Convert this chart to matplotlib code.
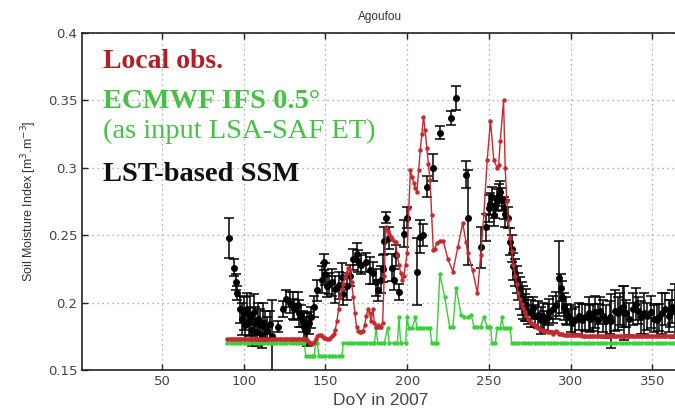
import matplotlib
matplotlib.use("Agg")
import matplotlib.pyplot as plt
import numpy as np

# ---------------- data ----------------
# Local obs. (red)
red_days = [90, 91, 92, 93, 94, 95, 96, 97, 98, 99, 100, 101, 102, 103, 104, 105, 106, 107, 108, 109,
            110, 111, 112, 113, 114, 115, 116, 117, 118, 119, 120, 121, 122, 123, 124, 125, 126, 127, 128, 129,
            130, 131, 132, 133, 134, 135, 136, 137, 138, 139, 140, 141, 142, 143, 144, 145, 146, 147, 148, 149,
            150, 151, 152, 153, 154, 155, 156, 157, 158, 159, 160, 161, 162, 163, 164, 165, 166, 167, 168, 169,
            170, 171, 172, 173, 174, 175, 176, 177, 178, 179, 180, 181, 182, 183, 184, 185, 186, 187, 188, 189,
            190, 191, 192, 193, 194, 195, 196, 197, 198, 199, 200, 201, 202, 203, 204, 205, 206, 207, 208, 209,
            210, 211, 212, 213, 214, 215, 216, 217, 218, 220, 222, 225, 228, 231, 234, 236, 237, 240, 243, 245,
            247, 249, 251, 253, 255, 256, 257, 259, 260, 261, 262, 263, 264, 265, 266, 267, 268, 269, 270, 271,
            272, 273, 274, 275, 276, 277, 278, 279, 280, 281, 282, 283, 284, 285, 286, 287, 288, 289, 290, 291,
            292, 293, 294, 295, 296, 297, 298, 299, 300, 301, 302, 303, 304, 305, 306, 307, 308, 309, 310, 311,
            312, 313, 314, 315, 316, 317, 318, 319, 320, 321, 322, 323, 324, 325, 326, 327, 328, 329, 330, 331,
            332, 333, 334, 335, 336, 337, 338, 339, 340, 341, 342, 343, 344, 345, 346, 347, 348, 349, 350, 351,
            352, 353, 354, 355, 356, 357, 358, 359, 360, 361, 362, 363, 364, 365]
red_vals = [0.173, 0.173, 0.173, 0.173, 0.173, 0.173, 0.173, 0.173, 0.173, 0.173, 0.173, 0.173, 0.173, 0.173, 0.173, 0.173, 0.173, 0.173, 0.173, 0.173,
            0.173, 0.173, 0.173, 0.173, 0.173, 0.173, 0.173, 0.173, 0.173, 0.173, 0.173, 0.173, 0.173, 0.173, 0.173, 0.173, 0.173, 0.173, 0.173, 0.173,
            0.173, 0.173, 0.173, 0.173, 0.173, 0.173, 0.173, 0.173, 0.173, 0.172, 0.171, 0.170, 0.169, 0.171, 0.173, 0.175, 0.176, 0.176, 0.175, 0.174,
            0.174, 0.173, 0.173, 0.174, 0.175, 0.177, 0.180, 0.186, 0.195, 0.204, 0.210, 0.214, 0.219, 0.222, 0.226, 0.224, 0.215, 0.204, 0.192, 0.182,
            0.179, 0.178, 0.178, 0.179, 0.183, 0.190, 0.195, 0.192, 0.186, 0.195, 0.185, 0.182, 0.183, 0.182, 0.182, 0.185, 0.220, 0.256, 0.253, 0.251,
            0.249, 0.247, 0.246, 0.245, 0.235, 0.228, 0.222, 0.217, 0.220, 0.228, 0.237, 0.270, 0.298, 0.293, 0.289, 0.285, 0.282, 0.298, 0.313, 0.325,
            0.338, 0.328, 0.315, 0.303, 0.291, 0.265, 0.239, 0.240, 0.244, 0.246, 0.246, 0.232, 0.223, 0.241, 0.259, 0.245, 0.237, 0.224, 0.207, 0.235,
            0.266, 0.306, 0.335, 0.306, 0.300, 0.302, 0.320, 0.350, 0.300, 0.275, 0.261, 0.248, 0.238, 0.228, 0.220, 0.214, 0.207, 0.203, 0.199, 0.196,
            0.193, 0.190, 0.188, 0.186, 0.185, 0.184, 0.183, 0.182, 0.181, 0.181, 0.180, 0.180, 0.179, 0.179, 0.178, 0.178, 0.178, 0.177, 0.178, 0.179,
            0.178, 0.177, 0.177, 0.177, 0.176, 0.176, 0.176, 0.176, 0.176, 0.176, 0.176, 0.176, 0.176, 0.176, 0.176, 0.175, 0.175, 0.175, 0.175, 0.175,
            0.175, 0.175, 0.175, 0.175, 0.175, 0.175, 0.175, 0.175, 0.175, 0.175, 0.175, 0.175, 0.175, 0.175, 0.175, 0.175, 0.175, 0.175, 0.175, 0.175,
            0.175, 0.175, 0.175, 0.175, 0.175, 0.175, 0.175, 0.175, 0.175, 0.175, 0.175, 0.175, 0.175, 0.175, 0.175, 0.175, 0.175, 0.175, 0.175, 0.175,
            0.175, 0.175, 0.175, 0.175, 0.175, 0.175, 0.175, 0.175, 0.175, 0.175, 0.175, 0.175, 0.175, 0.175]

# ECMWF IFS 0.5 deg (green)
green_days = [90, 92, 94, 96, 98, 100, 102, 104, 106, 108, 110, 112, 114, 116, 118, 120, 122, 124, 126, 128,
              130, 132, 134, 136, 137, 138, 140, 142, 143, 144, 145, 146, 148, 150, 152, 154, 156, 158, 160, 161,
              163, 165, 167, 169, 171, 173, 175, 177, 179, 180, 181, 182, 184, 186, 188, 189, 192, 194, 195, 196,
              199, 200, 201, 203, 205, 206, 208, 210, 212, 214, 215, 217, 218, 220, 223, 226, 228, 230, 233, 235,
              237, 239, 241, 243, 245, 247, 249, 251, 252, 254, 255, 257, 258, 259, 261, 263, 264, 266, 268, 270,
              272, 274, 276, 278, 280, 282, 284, 286, 288, 290, 292, 294, 296, 298, 300, 302, 304, 306, 308, 310,
              312, 314, 316, 318, 320, 322, 324, 326, 328, 330, 332, 334, 336, 338, 340, 342, 344, 346, 348, 350,
              352, 354, 356, 358, 360, 362, 364, 365]
green_vals = [0.170, 0.170, 0.170, 0.170, 0.170, 0.170, 0.170, 0.170, 0.170, 0.170, 0.170, 0.170, 0.170, 0.170, 0.170, 0.170, 0.170, 0.170, 0.170, 0.170,
              0.170, 0.170, 0.170, 0.170, 0.170, 0.160, 0.160, 0.160, 0.160, 0.170, 0.170, 0.160, 0.160, 0.160, 0.160, 0.160, 0.160, 0.160, 0.160, 0.170,
              0.170, 0.170, 0.170, 0.170, 0.170, 0.170, 0.170, 0.170, 0.170, 0.170, 0.181, 0.170, 0.170, 0.170, 0.181, 0.170, 0.170, 0.170, 0.189, 0.170,
              0.170, 0.189, 0.181, 0.181, 0.189, 0.181, 0.181, 0.181, 0.181, 0.181, 0.170, 0.170, 0.170, 0.221, 0.204, 0.182, 0.182, 0.211, 0.191, 0.189,
              0.189, 0.191, 0.182, 0.182, 0.182, 0.189, 0.182, 0.182, 0.170, 0.170, 0.181, 0.181, 0.189, 0.181, 0.181, 0.181, 0.170, 0.170, 0.170, 0.170,
              0.170, 0.170, 0.170, 0.170, 0.170, 0.170, 0.170, 0.170, 0.170, 0.170, 0.170, 0.170, 0.170, 0.170, 0.170, 0.170, 0.170, 0.170, 0.170, 0.170,
              0.170, 0.170, 0.170, 0.170, 0.170, 0.170, 0.170, 0.170, 0.170, 0.170, 0.170, 0.170, 0.170, 0.170, 0.170, 0.170, 0.170, 0.170, 0.170, 0.170,
              0.170, 0.170, 0.170, 0.170, 0.170, 0.170, 0.170, 0.170]

# LST-based SSM (black, with error bars)
ssm_days = [91, 94, 95, 96, 98, 99, 100, 101, 102, 103, 104, 105, 106, 107, 108, 109, 110, 111, 112, 113,
            114, 116, 117, 121, 124, 126, 128, 130, 131, 133, 134, 135, 136, 137, 138, 139, 140, 141, 143, 145,
            148, 149, 150, 151, 152, 154, 156, 158, 160, 161, 163, 165, 167, 169, 170, 172, 175, 177, 179, 181,
            182, 184, 185, 186, 187, 189, 191, 192, 193, 195, 198, 200, 206, 208, 210, 212, 216, 220, 227, 230,
            236, 237, 245, 248, 250, 251, 252, 253, 254, 255, 256, 257, 258, 259, 260, 262, 263, 264, 265, 266,
            267, 268, 269, 270, 271, 272, 273, 274, 276, 277, 278, 280, 282, 283, 284, 286, 287, 289, 291, 293,
            294, 295, 296, 297, 298, 300, 301, 303, 305, 307, 309, 311, 312, 314, 315, 317, 318, 320, 322, 324,
            325, 327, 329, 330, 332, 333, 334, 336, 338, 340, 341, 343, 345, 347, 349, 351, 353, 354, 356, 358,
            360, 361, 362, 364]
ssm_vals = [0.248, 0.226, 0.215, 0.207, 0.195, 0.188, 0.192, 0.183, 0.195, 0.186, 0.190, 0.180, 0.193, 0.185, 0.178, 0.188, 0.183, 0.176, 0.185, 0.182,
            0.179, 0.184, 0.175, 0.182, 0.195, 0.203, 0.200, 0.198, 0.195, 0.198, 0.192, 0.190, 0.186, 0.182, 0.179, 0.180, 0.185, 0.189, 0.197, 0.209,
            0.217, 0.230, 0.221, 0.212, 0.214, 0.215, 0.210, 0.213, 0.219, 0.206, 0.212, 0.220, 0.232, 0.236, 0.231, 0.228, 0.230, 0.224, 0.222, 0.215,
            0.209, 0.217, 0.225, 0.246, 0.263, 0.248, 0.226, 0.217, 0.235, 0.208, 0.251, 0.263, 0.223, 0.249, 0.250, 0.286, 0.300, 0.326, 0.337, 0.352,
            0.295, 0.263, 0.241, 0.256, 0.270, 0.273, 0.278, 0.265, 0.271, 0.276, 0.280, 0.282, 0.277, 0.270, 0.266, 0.263, 0.245, 0.240, 0.227, 0.222,
            0.217, 0.212, 0.207, 0.203, 0.200, 0.196, 0.198, 0.194, 0.192, 0.196, 0.190, 0.191, 0.187, 0.190, 0.186, 0.189, 0.193, 0.195, 0.198, 0.218,
            0.211, 0.204, 0.197, 0.194, 0.191, 0.188, 0.185, 0.187, 0.190, 0.187, 0.189, 0.192, 0.188, 0.189, 0.193, 0.187, 0.194, 0.190, 0.186, 0.189,
            0.186, 0.194, 0.192, 0.195, 0.197, 0.192, 0.192, 0.188, 0.195, 0.199, 0.194, 0.189, 0.192, 0.190, 0.193, 0.188, 0.187, 0.189, 0.192, 0.195,
            0.190, 0.192, 0.197, 0.194]
ssm_err = [0.015, 0.006, 0.006, 0.005, 0.010, 0.012, 0.012, 0.010, 0.012, 0.010, 0.015, 0.012, 0.013, 0.012, 0.010, 0.012, 0.012, 0.010, 0.015, 0.012,
           0.010, 0.010, 0.027, 0.004, 0.006, 0.006, 0.008, 0.010, 0.008, 0.010, 0.010, 0.008, 0.008, 0.010, 0.010, 0.012, 0.008, 0.008, 0.008, 0.008,
           0.010, 0.006, 0.008, 0.008, 0.008, 0.010, 0.010, 0.010, 0.010, 0.008, 0.010, 0.008, 0.008, 0.008, 0.008, 0.007, 0.007, 0.010, 0.008, 0.010,
           0.008, 0.010, 0.010, 0.010, 0.004, 0.008, 0.010, 0.008, 0.008, 0.006, 0.010, 0.008, 0.025, 0.012, 0.008, 0.008, 0.010, 0.005, 0.005, 0.009,
           0.010, 0.035, 0.015, 0.010, 0.010, 0.008, 0.008, 0.008, 0.008, 0.008, 0.008, 0.008, 0.008, 0.008, 0.010, 0.008, 0.010, 0.010, 0.010, 0.010,
           0.010, 0.010, 0.012, 0.012, 0.012, 0.010, 0.012, 0.010, 0.010, 0.008, 0.008, 0.010, 0.010, 0.010, 0.008, 0.010, 0.010, 0.010, 0.010, 0.028,
           0.010, 0.012, 0.010, 0.010, 0.008, 0.010, 0.010, 0.010, 0.010, 0.012, 0.010, 0.012, 0.010, 0.010, 0.012, 0.012, 0.010, 0.012, 0.012, 0.012,
           0.020, 0.015, 0.012, 0.012, 0.015, 0.020, 0.010, 0.012, 0.012, 0.012, 0.010, 0.012, 0.015, 0.010, 0.012, 0.010, 0.012, 0.010, 0.015, 0.012,
           0.012, 0.010, 0.012, 0.020]

x_ticks = [50, 100, 150, 200, 250, 300, 350]
y_ticks = [0.15, 0.2, 0.25, 0.3, 0.35, 0.4]
y_ticklabels = ["0.15", "0.2", "0.25", "0.3", "0.35", "0.4"]

# ---------------- figure ----------------
fig = plt.figure(figsize=(6.75, 4.12), dpi=100)
ax = fig.add_axes([0.1215, 0.102, 0.8835, 0.818])

ax.errorbar(ssm_days, ssm_vals, yerr=ssm_err, fmt='o', color='black', ecolor='black',
            markersize=4, elinewidth=1.1, capsize=3.5, capthick=1.1, zorder=3)
ax.plot(green_days, green_vals, '-o', color='#3ccf3c', linewidth=1.0, markersize=2.2, zorder=4)
ax.plot(red_days, red_vals, '-o', color='#c42a2f', linewidth=1.0, markersize=2.2, zorder=5)

ax.set_xlim(1, 366)
ax.set_ylim(0.15, 0.4)
ax.set_xticks(x_ticks)
ax.set_yticks(y_ticks)
ax.set_yticklabels(y_ticklabels)
ax.tick_params(direction='in', top=True, right=False, length=4, width=1,
               labelsize=9.5, colors='#222222')
for lab in ax.get_xticklabels() + ax.get_yticklabels():
    lab.set_color('#444444')
ax.grid(True, linestyle=(0, (1, 3)), color='#999999', linewidth=0.9)
for s in ['left', 'bottom', 'top']:
    ax.spines[s].set_linewidth(1.2)
    ax.spines[s].set_color('#222222')
ax.spines['right'].set_visible(False)

ax.set_title('Agoufou', fontsize=8.5, color='#333333', pad=9, fontfamily='Liberation Sans')
ax.set_xlabel('DoY in 2007', fontsize=12.5, color='#444444', labelpad=4, fontfamily='Liberation Sans')
ax.set_ylabel('Soil Moisture Index [m$^3$.m$^{-3}$]', fontsize=9, color='#333333', labelpad=6,
              fontfamily='Liberation Sans')

fig.text(103 / 675, 1 - 62 / 412, 'Local obs.', fontsize=20, fontweight='bold',
         color='#b01e28', fontfamily='Liberation Serif', va='center', ha='left')
fig.text(103 / 675, 1 - 101 / 412, 'ECMWF IFS 0.5°', fontsize=20.5, fontweight='bold',
         color='#46c046', fontfamily='Liberation Serif', va='center', ha='left')
fig.text(103 / 675, 1 - 131 / 412, '(as input LSA-SAF ET)', fontsize=20.5,
         color='#46c046', fontfamily='Liberation Serif', va='center', ha='left')
fig.text(103 / 675, 1 - 175 / 412, 'LST-based SSM', fontsize=20.5, fontweight='bold',
         color='#111111', fontfamily='Liberation Serif', va='center', ha='left')

fig.savefig('out.png', dpi=100)
